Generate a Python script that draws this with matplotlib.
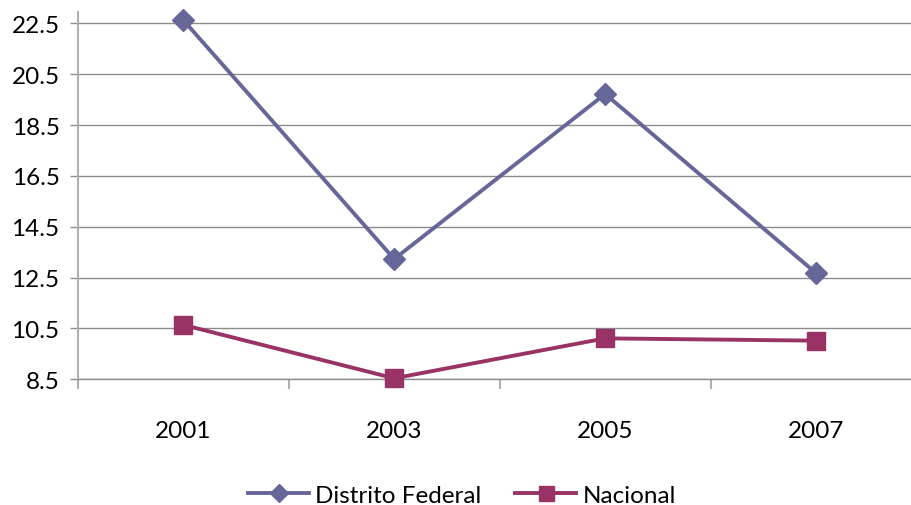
import matplotlib
matplotlib.use("Agg")
import matplotlib.pyplot as plt
import numpy as np

years = ["2001", "2003", "2005", "2007"]
distrito_federal = [22.63, 13.23, 19.72, 12.67]
nacional = [10.64, 8.54, 10.11, 10.02]
y_ticks = [8.5, 10.5, 12.5, 14.5, 16.5, 18.5, 20.5, 22.5]

plt.rcParams['font.family'] = ['Lato', 'DejaVu Sans']

fig = plt.figure(figsize=(9.11, 5.06), dpi=100)
W, H = 911, 506
left_px, right_px = 77.7, 77.7 + 4 * 211
bottom_px, top_px = 380.3, 12.7
ax = fig.add_axes([left_px / W, 1 - bottom_px / H, (right_px - left_px) / W, (bottom_px - top_px) / H])

x = np.arange(len(years))
ax.plot(x, distrito_federal, color='#666699', lw=2.8, marker='D', markersize=11,
        label='Distrito Federal', zorder=3, clip_on=False)
ax.plot(x, nacional, color='#993366', lw=2.8, marker='s', markersize=13.5,
        label='Nacional', zorder=3, clip_on=False)

ax.set_xlim(-0.5, 3.5)
ax.set_ylim(8.5, 8.5 + (bottom_px - top_px) / ((bottom_px - 24.3) / 14.0))
ax.set_yticks(y_ticks)
ax.set_yticklabels([f"{v:.1f}" for v in y_ticks])
ax.set_xticks(x)
ax.set_xticklabels(years)
ax.set_xticks(np.arange(-0.5, 4.0, 1.0), minor=True)

grid_color = '#8c8c8c'
ax.yaxis.grid(True, color=grid_color, lw=1.0)
ax.set_axisbelow(True)
for s in ['top', 'right']:
    ax.spines[s].set_visible(False)
ax.spines['left'].set_color('#b0b0b0')
ax.spines['left'].set_linewidth(1.5)
ax.spines['bottom'].set_color(grid_color)
ax.spines['bottom'].set_linewidth(1.0)

ax.tick_params(axis='y', which='major', length=6, color=grid_color, width=1.0,
               labelsize=17.5, pad=7, labelcolor='black')
ax.tick_params(axis='x', which='major', length=0, labelsize=17.5, pad=29, labelcolor='black')
ax.tick_params(axis='x', which='minor', length=7, color='#b0b0b0', width=1.5)

fig.legend(loc='center', bbox_to_anchor=(462 / W, 1 - 496 / H), ncol=2, frameon=False,
           fontsize=17.5, handlelength=2.5, handletextpad=0.25, columnspacing=1.4,
           markerscale=0.8)

fig.savefig('out.png', dpi=100)
